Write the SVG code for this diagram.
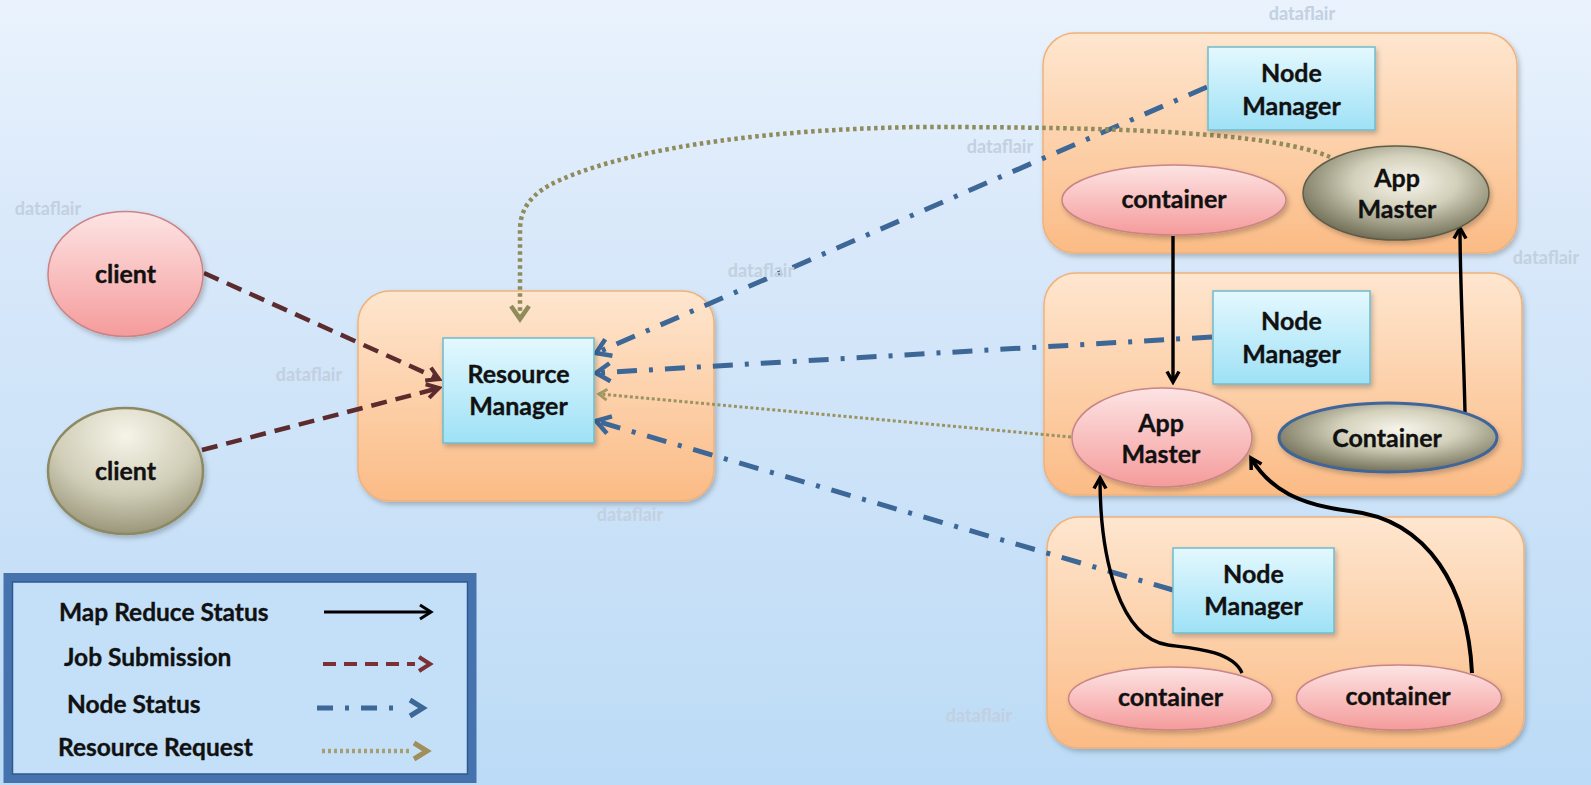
<svg xmlns="http://www.w3.org/2000/svg" width="1591" height="785" viewBox="0 0 1591 785">
  <defs>
    <linearGradient id="bg" x1="0" y1="0" x2="0" y2="1">
      <stop offset="0" stop-color="#eaf3fd"/>
      <stop offset="0.27" stop-color="#dae9fa"/>
      <stop offset="1" stop-color="#bcdbf6"/>
    </linearGradient>
    <linearGradient id="orange" x1="0" y1="0" x2="0" y2="1">
      <stop offset="0" stop-color="#fee6cf"/>
      <stop offset="1" stop-color="#fbbb85"/>
    </linearGradient>
    <linearGradient id="cyan" x1="0" y1="0" x2="0" y2="1">
      <stop offset="0" stop-color="#e4f8fe"/>
      <stop offset="1" stop-color="#9ee1f6"/>
    </linearGradient>
    <linearGradient id="pink" x1="0" y1="0" x2="0" y2="1">
      <stop offset="0" stop-color="#fde4e4"/>
      <stop offset="1" stop-color="#f59b9b"/>
    </linearGradient>
    <radialGradient id="olive" cx="0.55" cy="0.38" r="0.62">
      <stop offset="0" stop-color="#f8f6ec"/>
      <stop offset="0.45" stop-color="#d3d0bb"/>
      <stop offset="1" stop-color="#74715a"/>
    </radialGradient>
    <radialGradient id="oliveClient" cx="0.5" cy="0.22" r="0.85">
      <stop offset="0" stop-color="#f6f4e8"/>
      <stop offset="0.55" stop-color="#cfccb6"/>
      <stop offset="1" stop-color="#8e8a6e"/>
    </radialGradient>
    <filter id="shadow" x="-10%" y="-10%" width="125%" height="130%">
      <feDropShadow dx="2" dy="3" stdDeviation="2.5" flood-color="#000" flood-opacity="0.22"/>
    </filter>

    <!-- arrowheads: open chevrons -->
    <marker id="arrBlack" viewBox="0 0 16 16" refX="13" refY="8" markerWidth="16" markerHeight="16" markerUnits="userSpaceOnUse" orient="auto">
      <path d="M2.5,2 L13,8 L2.5,14" fill="none" stroke="#000" stroke-width="3.5" stroke-linejoin="miter"/>
    </marker>
    <marker id="arrMaroon" viewBox="0 0 18 18" refX="15" refY="9" markerWidth="18" markerHeight="18" markerUnits="userSpaceOnUse" orient="auto">
      <path d="M3,2 L15,9 L3,16" fill="none" stroke="#5c2b2e" stroke-width="4" stroke-linejoin="miter"/>
    </marker>
    <marker id="arrBlue" viewBox="0 0 22 22" refX="18" refY="11" markerWidth="22" markerHeight="22" markerUnits="userSpaceOnUse" orient="auto">
      <path d="M4,2 L18,11 L4,20" fill="none" stroke="#3d6797" stroke-width="4.5" stroke-linejoin="miter"/>
    </marker>
    <marker id="arrOlive" viewBox="0 0 22 22" refX="17" refY="11" markerWidth="22" markerHeight="22" markerUnits="userSpaceOnUse" orient="auto">
      <path d="M4,2 L17,11 L4,20" fill="none" stroke="#8f8b5b" stroke-width="4.5" stroke-linejoin="miter"/>
    </marker>
    <marker id="arrOliveSmall" viewBox="0 0 14 14" refX="11" refY="7" markerWidth="14" markerHeight="14" markerUnits="userSpaceOnUse" orient="auto">
      <path d="M3,1.5 L11,7 L3,12.5" fill="none" stroke="#a19a63" stroke-width="3"/>
    </marker>
  </defs>

  <style>
    .box { fill: url(#orange); stroke: #f0b27a; stroke-width: 1.5; filter: url(#shadow); }
    .nm { fill: url(#cyan); stroke: #6dbccd; stroke-width: 1.5; filter: url(#shadow); }
    .pink { fill: url(#pink); stroke: #c98486; stroke-width: 1.5; filter: url(#shadow); }
    .gray { fill: url(#olive); stroke: #5f5d49; stroke-width: 1.5; filter: url(#shadow); }
    .label { font-family: Lato, "Liberation Sans", sans-serif; font-weight: 700; font-size: 25px; fill: #111; text-anchor: middle; stroke: #111; stroke-width: 0.35; }
    .legend { font-family: Lato, "Liberation Sans", sans-serif; font-weight: 700; font-size: 24.5px; fill: #111; stroke: #111; stroke-width: 0.35; }
    .wm { font-family: Lato, "Liberation Sans", sans-serif; font-weight: 700; font-size: 18px; fill: #c2d0df; text-anchor: middle; }
    .status { fill: none; stroke: #000; stroke-width: 3.4; }
    .job { fill: none; stroke: #5c2b2e; stroke-width: 4.5; stroke-dasharray: 16 9; }
    .node { fill: none; stroke: #3d6797; stroke-width: 5; stroke-dasharray: 20 12 4 12; }
    .req { fill: none; stroke: #8f8b5b; stroke-width: 4.5; stroke-dasharray: 3.5 3.5; }
    .reqThin { fill: none; stroke: #9a9462; stroke-width: 3; stroke-dasharray: 3 2.5; }
  </style>

  <!-- background -->
  <rect x="0" y="0" width="1591" height="785" fill="url(#bg)"/>

  <!-- container boxes -->
  <g id="rm-host"><rect class="box" x="358" y="291" width="356" height="210" rx="32"/></g>
  <g id="host-1"><rect class="box" x="1043" y="33" width="474" height="220" rx="32"/></g>
  <g id="host-2"><rect class="box" x="1044" y="273" width="478" height="222" rx="32"/></g>
  <g id="host-3"><rect class="box" x="1047" y="517" width="477" height="231" rx="32"/></g>

  <!-- connectors -->
  <g id="connectors">
    <!-- job submission -->
    <path class="job" d="M204,273 L439,379" marker-end="url(#arrMaroon)"/>
    <path class="job" d="M202,450 L439,388" marker-end="url(#arrMaroon)"/>
    <!-- node status -->
    <path class="node" d="M1207,87 L596,353" marker-end="url(#arrBlue)"/>
    <path class="node" d="M1212,337 L596,373" marker-end="url(#arrBlue)"/>
    <path class="node" d="M1173,590 L596,421" marker-end="url(#arrBlue)"/>
    <!-- resource requests -->
    <path class="req" d="M1330,157 C1270,132 1120,127 920,127 C780,129 640,145 560,180 C530,193 520,210 520,230 L520,319" marker-end="url(#arrOlive)"/>
    <path class="reqThin" d="M1071,437 L599,394" marker-end="url(#arrOliveSmall)"/>
    <!-- map reduce status -->
    <path class="status" d="M1173,236 L1173,382" marker-end="url(#arrBlack)"/>
    <path class="status" d="M1465,412 C1463,330 1460,280 1460,228" marker-end="url(#arrBlack)"/>
    <path class="status" d="M1242,673 C1232,650 1190,648 1168,645 C1120,638 1100,560 1100,478" marker-end="url(#arrBlack)"/>
    <path class="status" style="stroke-width:4" d="M1472,673 C1468,590 1430,520 1350,511 C1300,505 1270,490 1251,458" marker-end="url(#arrBlack)"/>
  </g>

  <!-- clients -->
  <g id="client-1">
    <ellipse class="pink" cx="125.5" cy="274" rx="77.5" ry="62.5"/>
    <text class="label" x="125.5" y="283">client</text>
  </g>
  <g id="client-2">
    <ellipse cx="125.5" cy="471" rx="77.5" ry="63" fill="url(#oliveClient)" stroke="#8d8962" stroke-width="2.5" filter="url(#shadow)"/>
    <text class="label" x="125.5" y="480">client</text>
  </g>

  <!-- resource manager -->
  <g id="resource-manager">
    <rect class="nm" x="443" y="338" width="151" height="105"/>
    <text class="label" x="518.5" y="383">Resource</text>
    <text class="label" x="518.5" y="415">Manager</text>
  </g>

  <!-- host 1 -->
  <g id="node-manager-1">
    <rect class="nm" x="1208" y="47" width="167" height="83"/>
    <text class="label" x="1291.5" y="82">Node</text>
    <text class="label" x="1291.5" y="115">Manager</text>
  </g>
  <g id="container-1">
    <ellipse class="pink" cx="1174" cy="200" rx="112" ry="35"/>
    <text class="label" x="1174" y="208">container</text>
  </g>
  <g id="app-master-1">
    <ellipse class="gray" cx="1396" cy="193" rx="93" ry="47"/>
    <text class="label" x="1397" y="187">App</text>
    <text class="label" x="1397" y="218">Master</text>
  </g>

  <!-- host 2 -->
  <g id="node-manager-2">
    <rect class="nm" x="1213" y="291" width="157" height="93"/>
    <text class="label" x="1291.5" y="330">Node</text>
    <text class="label" x="1291.5" y="363">Manager</text>
  </g>
  <g id="app-master-2">
    <ellipse class="pink" cx="1162" cy="437.5" rx="90" ry="49.5"/>
    <text class="label" x="1161" y="432">App</text>
    <text class="label" x="1161" y="463">Master</text>
  </g>
  <g id="container-2">
    <ellipse cx="1388" cy="437.5" rx="109" ry="34.5" fill="url(#olive)" stroke="#3f6598" stroke-width="3" filter="url(#shadow)"/>
    <text class="label" x="1387" y="447">Container</text>
  </g>

  <!-- host 3 -->
  <g id="node-manager-3">
    <rect class="nm" x="1173" y="548" width="161" height="85"/>
    <text class="label" x="1253.5" y="583">Node</text>
    <text class="label" x="1253.5" y="615">Manager</text>
  </g>
  <g id="container-3">
    <ellipse class="pink" cx="1170.5" cy="698.5" rx="102" ry="31.5"/>
    <text class="label" x="1170.5" y="706">container</text>
  </g>
  <g id="container-4">
    <ellipse class="pink" cx="1399" cy="697.5" rx="102.5" ry="32.5"/>
    <text class="label" x="1398" y="705">container</text>
  </g>

  <!-- legend -->
  <g id="legend">
    <rect x="8" y="577.5" width="464" height="201" fill="#c3e0f8" stroke="#4673ae" stroke-width="9"/>
    <rect x="12.5" y="582" width="455" height="192" fill="none" stroke="#2d5993" stroke-width="1.5"/>
    <text class="legend" x="59" y="621">Map Reduce Status</text>
    <text class="legend" x="64" y="666">Job Submission</text>
    <text class="legend" x="67" y="713">Node Status</text>
    <text class="legend" x="58" y="756">Resource Request</text>
    <path d="M324,612 L430,612" fill="none" stroke="#000" stroke-width="3"/>
    <path d="M420,605 L431,612 L420,619" fill="none" stroke="#000" stroke-width="3"/>
    <path d="M323,664 L415,664" fill="none" stroke="#7a3034" stroke-width="4" stroke-dasharray="13 8"/>
    <path d="M419,657 L430,664 L419,671" fill="none" stroke="#7a3034" stroke-width="4"/>
    <path d="M317,708 L403,708" fill="none" stroke="#3d6797" stroke-width="5" stroke-dasharray="16 12 4 12"/>
    <path d="M410,700 L423,708 L410,716" fill="none" stroke="#3d6797" stroke-width="5"/>
    <path d="M322,751 L412,751" fill="none" stroke="#a79e72" stroke-width="4.5" stroke-dasharray="3 3"/>
    <path d="M414,743 L427,751 L414,759" fill="none" stroke="#a08f5a" stroke-width="5"/>
  </g>

  <!-- dataflair marks -->
  <g id="marks">
    <text class="wm" x="1302" y="20">dataflair</text>
    <text class="wm" x="1000" y="153">dataflair</text>
    <text class="wm" x="48" y="215">dataflair</text>
    <text class="wm" x="1546" y="264">dataflair</text>
    <text class="wm" x="761" y="277">dataflair</text>
    <text class="wm" x="309" y="381">dataflair</text>
    <text class="wm" x="630" y="521">dataflair</text>
    <text class="wm" x="979" y="722">dataflair</text>
  </g>
</svg>
